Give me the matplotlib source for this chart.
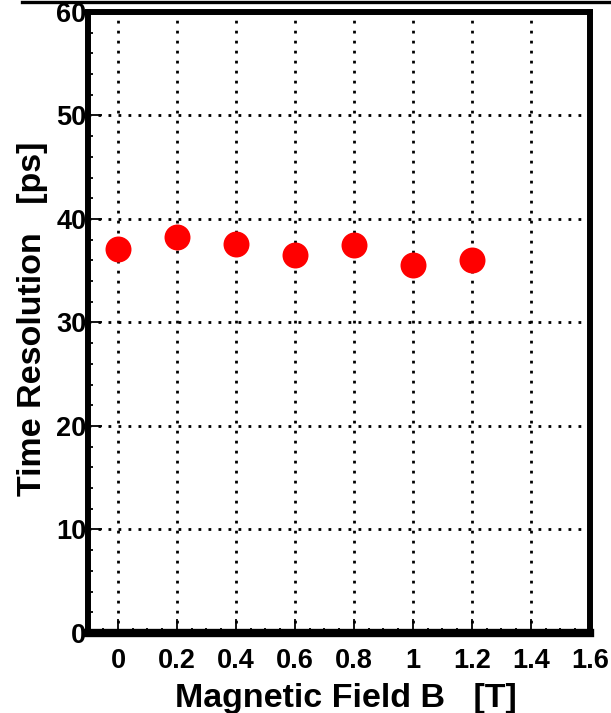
import matplotlib
matplotlib.use("Agg")
import matplotlib.pyplot as plt
from matplotlib.lines import Line2D
from matplotlib.ticker import MultipleLocator

# measured time resolution vs magnetic field
field_T = [0.0, 0.2, 0.4, 0.6, 0.8, 1.0, 1.2]
resolution_ps = [37.1, 38.3, 37.6, 36.5, 37.5, 35.6, 36.0]

x_ticks = [0, 0.2, 0.4, 0.6, 0.8, 1.0, 1.2, 1.4, 1.6]
x_tick_labels = ["0", "0.2", "0.4", "0.6", "0.8", "1", "1.2", "1.4", "1.6"]
y_ticks = [0, 10, 20, 30, 40, 50, 60]

plt.rcParams["font.family"] = ["Liberation Sans", "DejaVu Sans"]
plt.rcParams["font.weight"] = "bold"

fig = plt.figure(figsize=(6.11, 7.13), dpi=100)
ax = fig.add_axes([0.1448, 0.1122, 0.8208, 0.8710])

ax.plot(field_T, resolution_ps, linestyle="none", marker="o",
        markersize=18.7, color="#ff0000", markeredgewidth=0, zorder=3)

ax.set_xlim(-0.1, 1.6)
ax.set_ylim(0, 60)
ax.set_xticks(x_ticks)
ax.set_xticklabels(x_tick_labels)
ax.set_yticks(y_ticks)
ax.xaxis.set_minor_locator(MultipleLocator(0.05))
ax.yaxis.set_minor_locator(MultipleLocator(2))

ax.grid(True, which="major", color="black", linewidth=2,
        linestyle=(0, (1, 2.6)), zorder=1)

ax.tick_params(which="both", direction="in", top=False, right=False,
               width=1.3, labelsize=19.5)
ax.tick_params(which="major", length=10)
ax.tick_params(which="minor", length=3.6)
ax.tick_params(axis="x", which="major", pad=11)
ax.tick_params(axis="y", which="major", pad=1.5)

for side in ["left", "right", "top"]:
    ax.spines[side].set_linewidth(4.3)
ax.spines["bottom"].set_linewidth(6)

ax.set_xlabel("Magnetic Field B   [T]", fontsize=24.5, fontweight="bold", va="center")
ax.xaxis.set_label_coords(0.514, -0.105)
ax.set_ylabel("Time Resolution   [ps]", fontsize=24.5, fontweight="bold", va="center")
ax.yaxis.set_label_coords(-0.1107, 0.506)

# stray frame line at the very top of the canvas
fig.add_artist(Line2D([22 / 611, 1.0], [1 - 1.5 / 713, 1 - 1.5 / 713],
                      transform=fig.transFigure, color="black", linewidth=2.4))

fig.savefig("out.png", dpi=100)
